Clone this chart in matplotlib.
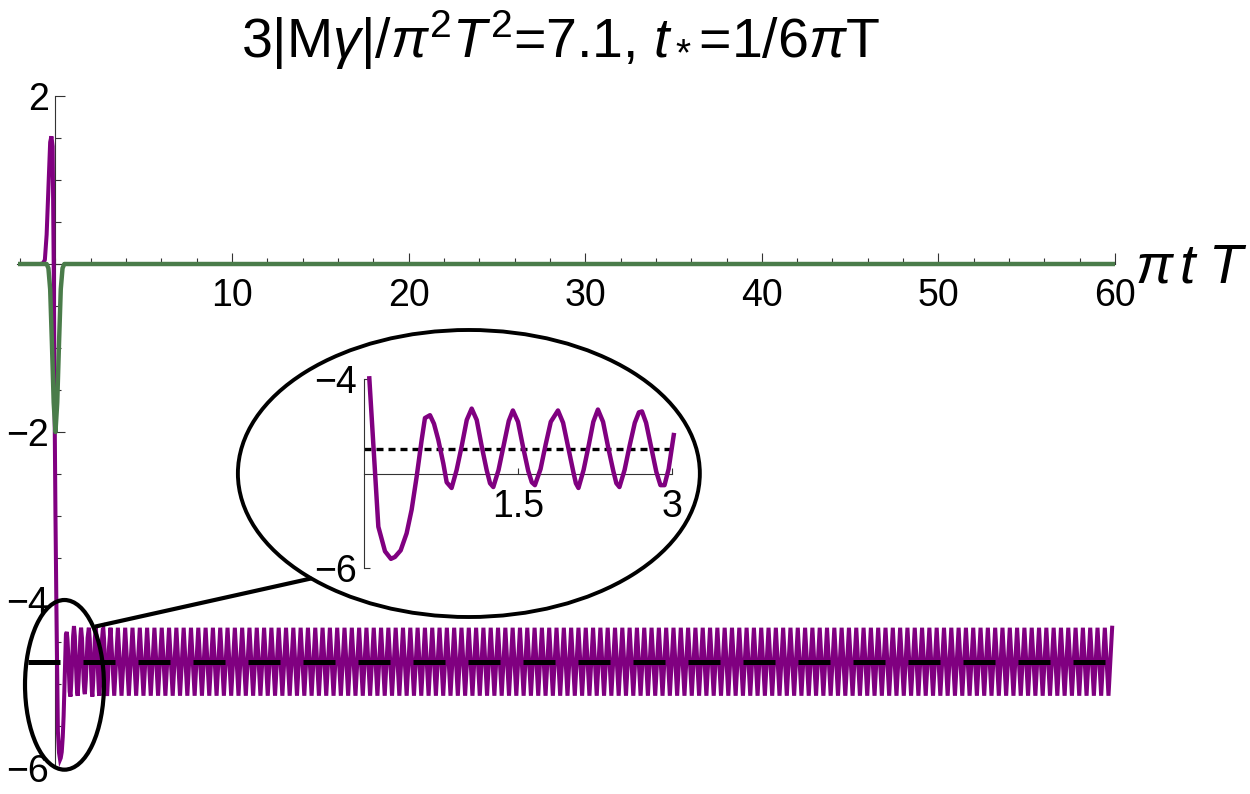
import numpy as np
import matplotlib
matplotlib.use("Agg")
import matplotlib.pyplot as plt
from matplotlib.patches import Ellipse

plt.rcParams['font.family'] = ['Liberation Sans', 'DejaVu Sans']
plt.rcParams['mathtext.fontset'] = 'custom'
plt.rcParams['mathtext.rm'] = 'Liberation Sans'
plt.rcParams['mathtext.it'] = 'Liberation Sans:italic'
plt.rcParams['mathtext.bf'] = 'Liberation Sans:bold'

# ---------------- data ----------------
# purple curve: transient before the plunge
pre_t = [-2.15, -0.85, -0.7, -0.6, -0.5, -0.4, -0.3, -0.23, -0.16, -0.10, -0.05, 0.0]
pre_v = [0.0, 0.0, 0.01, 0.05, 0.35, 0.9, 1.45, 1.52, 1.40, 0.0, -1.7, -3.0]

# purple curve in the zoomed window 0..3
zoom_t = [0.049, 0.137, 0.202, 0.260, 0.299, 0.355, 0.413, 0.462, 0.511, 0.560,
          0.592, 0.641, 0.680, 0.722, 0.771, 0.804, 0.852, 0.901, 0.950, 1.000,
          1.048, 1.097, 1.146, 1.194, 1.227, 1.259, 1.31, 1.36, 1.41, 1.45,
          1.50, 1.55, 1.60, 1.635, 1.665, 1.72, 1.77, 1.82, 1.89, 1.94,
          1.99, 2.04, 2.065, 2.09, 2.14, 2.19, 2.235, 2.28, 2.33, 2.38,
          2.43, 2.46, 2.49, 2.54, 2.59, 2.64, 2.68, 2.71, 2.75, 2.80,
          2.85, 2.89, 2.93, 2.97, 3.02]
zoom_v = [-3.99, -5.56, -5.82, -5.90, -5.88, -5.81, -5.63, -5.38, -5.03, -4.64,
          -4.41, -4.38, -4.47, -4.64, -4.89, -5.09, -5.15, -4.96, -4.71, -4.43,
          -4.31, -4.43, -4.71, -4.96, -5.10, -5.14, -4.96, -4.70, -4.44, -4.33,
          -4.45, -4.72, -4.97, -5.09, -5.12, -4.95, -4.69, -4.45, -4.33, -4.46,
          -4.72, -4.98, -5.10, -5.15, -4.96, -4.70, -4.45, -4.32, -4.45, -4.72,
          -4.97, -5.10, -5.14, -4.96, -4.70, -4.46, -4.35, -4.34, -4.46, -4.72,
          -4.98, -5.12, -5.12, -4.95, -4.59]

# steady oscillation after the window (read: peak, trough, period)
osc_peak = -4.33
osc_trough = -5.14
osc_period = 0.414
osc_start = 3.12
t_end = 60.0

# late-time mean value (dashed / dotted line)
mean_value = -4.74

# green curve
green_t = [-2.15, -0.5, -0.4, -0.3, -0.2, -0.1, 0.0, 0.1, 0.2, 0.3, 0.4, 0.5, 60.0]
green_v = [0.0, 0.0, -0.05, -0.3, -0.95, -1.65, -2.0, -1.65, -0.95, -0.3, -0.05, 0.0, 0.0]

x_major = [10, 20, 30, 40, 50, 60]
y_major = [-6, -4, -2, 2]
inset_xticks = [1.5, 3]
inset_yticks = [-6, -4]

title = r'3|M$\gamma$|/$\pi^2T^2$=7.1, $t_*$=1/6$\pi$T'
xlabel = r'$\pi\,t\;T$'

# continuation extrema (peak / trough alternating)
ext_t = np.arange(osc_start, t_end, osc_period / 2)
ext_v = np.where(np.arange(len(ext_t)) % 2 == 0, osc_peak, osc_trough)
main_t = np.concatenate([pre_t, zoom_t, ext_t])
main_v = np.concatenate([pre_v, zoom_v, ext_v])

purple = '#800080'
green = '#4a7c4a'

# ---------------- figure ----------------
W, H = 1250, 794
fig = plt.figure(figsize=(12.5, 7.94), dpi=100)

x0px, x1px = 17.5, 1115.0
ytop, ybot = 96.0, 768.0
ax = fig.add_axes([x0px / W, 1 - ybot / H, (x1px - x0px) / W, (ybot - ytop) / H])
ax.set_xlim(-2.15, 60)
ax.set_ylim(-6, 2)
ax.patch.set_alpha(0)
for s in ['top', 'right']:
    ax.spines[s].set_visible(False)
ax.spines['left'].set_position(('data', 0))
ax.spines['bottom'].set_position(('data', 0))
ax.spines['left'].set_linewidth(0.8)
ax.spines['bottom'].set_linewidth(0.8)
ax.spines['left'].set_color('#333333')
ax.spines['bottom'].set_color('#333333')

ax.set_xticks(x_major)
ax.set_xticks(np.arange(-2, 61, 2), minor=True)
ax.set_yticks(y_major)
ax.set_yticks(np.arange(-6, 2.01, 0.5), minor=True)
ax.tick_params(axis='x', which='major', direction='in', length=8, width=0.8,
               pad=10, labelsize=27, color='#333333')
ax.tick_params(axis='x', which='minor', direction='in', length=4, width=0.8, color='#333333')
ax.tick_params(axis='y', which='major', direction='in', length=7, width=0.8,
               pad=5, labelsize=27, color='#333333')
ax.tick_params(axis='y', which='minor', direction='in', length=4, width=0.8, color='#333333')

ax.plot(main_t, main_v, color=purple, lw=2.9, zorder=3, solid_joinstyle='miter')
ax.plot(green_t, green_v, color=green, lw=3.2, zorder=3.2)
ax.plot([-1.56, 60], [mean_value, mean_value], color='black', lw=3.6,
        dashes=(6.4, 4.6), zorder=4)

# small ellipse, big ellipse, connector
ax.add_patch(Ellipse((0.51, -5.01), 4.47, 2.02, fill=False, lw=3.0,
                     edgecolor='black', zorder=5, clip_on=False))
ax.add_patch(Ellipse((23.41, -2.494), 26.16, 3.417, fill=False, lw=2.8,
                     edgecolor='black', zorder=5, clip_on=False))
ax.plot([2.24, 14.51], [-4.317, -3.742], color='black', lw=3.0, zorder=5,
        clip_on=False, solid_capstyle='butt')

# ---------------- inset ----------------
ix0, ix1 = 364.3, 671.7
iytop, iybot = 379.3, 568.3
ax2 = fig.add_axes([ix0 / W, 1 - iybot / H, (ix1 - ix0) / W, (iybot - iytop) / H])
ax2.set_xlim(0, 3)
ax2.set_ylim(-6, -4)
ax2.patch.set_alpha(0)
for s in ['top', 'right']:
    ax2.spines[s].set_visible(False)
ax2.spines['left'].set_position(('data', 0))
ax2.spines['bottom'].set_position(('data', -5))
for s in ['left', 'bottom']:
    ax2.spines[s].set_linewidth(0.8)
    ax2.spines[s].set_color('#333333')
ax2.set_xticks(inset_xticks)
ax2.set_yticks(inset_yticks)
ax2.tick_params(axis='x', direction='in', length=4, width=0.8, pad=11,
                labelsize=27, color='#333333')
ax2.tick_params(axis='y', direction='in', length=4, width=0.8, pad=5,
                labelsize=27, color='#333333')
ax2.xaxis.set_major_formatter(matplotlib.ticker.FuncFormatter(
    lambda v, p: ('%g' % v)))
ax2.plot(zoom_t, zoom_v, color=purple, lw=3.2, clip_on=False, zorder=3)
ax2.plot([0, 3], [mean_value, mean_value], color='black', lw=2.4,
         dashes=(2.1, 1.5), zorder=2.5)

# ---------------- texts ----------------
fig.text(560 / W, 1 - 58 / H, title, fontsize=40, ha='center', va='baseline')
fig.text(1135 / W, 1 - 283 / H, xlabel, fontsize=40, ha='left', va='baseline')

fig.savefig('out.png', dpi=100)
